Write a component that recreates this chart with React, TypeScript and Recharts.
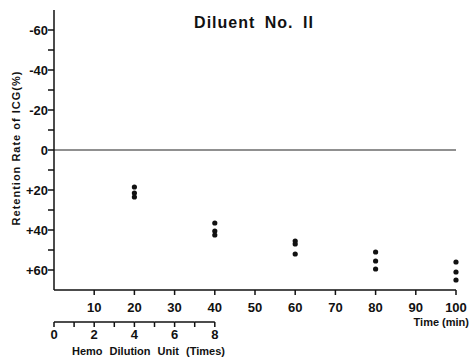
import {
    ScatterChart,
    Scatter,
    XAxis,
    YAxis,
    ReferenceLine,
} from "recharts";

// Sampling times (min) and the three measured retention rates at each time
const TIMES = [20, 40, 60, 80, 100];
const RUN_A = [18.5, 36.5, 45.5, 51, 56];
const RUN_B = [21.5, 40.5, 47, 55.5, 61];
const RUN_C = [23.5, 42.5, 52, 59.5, 65];

// Axis ticks
const TIME_LABELS = [10, 20, 30, 40, 50, 60, 70, 80, 90, 100];
const RATE_TICKS = [-60, -50, -40, -30, -20, -10, 0, 10, 20, 30, 40, 50, 60];
const HEMO_TICKS = [0, 1, 2, 3, 4, 5, 6, 7, 8];

const TIME_DOMAIN = [0, 100];
const RATE_DOMAIN = [-70, 70];
const MIN_PER_UNIT = 5; // one hemo dilution unit every 5 minutes

// the time axis carries both scales: minutes on top, dilution units underneath
const TIME_TICKS = Array.from(
    new Set([...HEMO_TICKS.map((h) => h * MIN_PER_UNIT), ...TIME_LABELS])
).sort((a, b) => a - b);

const points = TIMES.flatMap((t, i) => [
    { time: t, rate: RUN_A[i] },
    { time: t, rate: RUN_B[i] },
    { time: t, rate: RUN_C[i] },
]);

const INK = "#111";
const FONT = "'Liberation Sans', Arial, sans-serif";
const HEMO_GAP = 32; // distance from the time axis down to the hemo scale

const Dot = (props: any) => <circle cx={props.cx} cy={props.cy} r={2.6} fill={INK} />;

const tickText = {
    fill: INK,
    fontSize: 13,
    fontWeight: 700,
    fontFamily: FONT,
};

const TimeTick = (props: any) => {
    const { x, y, payload, width } = props;
    const v = payload.value;
    const hemo = v / MIN_PER_UNIT;
    const step = (width * MIN_PER_UNIT) / (TIME_DOMAIN[1] - TIME_DOMAIN[0]);
    const lastHemo = HEMO_TICKS[HEMO_TICKS.length - 1];
    const isHemo = HEMO_TICKS.includes(hemo);
    const hy = y + HEMO_GAP;
    return (
        <g>
            {TIME_LABELS.includes(v) && (
                <>
                    <line x1={x} x2={x} y1={y} y2={y + 5} stroke={INK} strokeWidth={1.5} />
                    <text x={x} y={y + 22} textAnchor="middle" {...tickText}>
                        {v}
                    </text>
                </>
            )}
            {isHemo && (
                <>
                    {hemo < lastHemo && Number.isFinite(step) && (
                        <line x1={x} x2={x + step} y1={hy} y2={hy} stroke={INK} strokeWidth={1.5} />
                    )}
                    <line x1={x} x2={x} y1={hy} y2={hy + 5} stroke={INK} strokeWidth={1.5} />
                    {hemo % 2 === 0 && (
                        <text x={x} y={hy + 17} textAnchor="middle" {...tickText}>
                            {hemo}
                        </text>
                    )}
                </>
            )}
        </g>
    );
};

const RateTick = (props: any) => {
    const { x, y, payload } = props;
    const v = payload.value;
    return (
        <g>
            <line x1={x} x2={x - 6} y1={y} y2={y} stroke={INK} strokeWidth={1.5} />
            {v % 20 === 0 && (
                <text x={x - 6} y={y} dy="0.36em" textAnchor="end" {...tickText}>
                    {v > 0 ? `+${v}` : String(v)}
                </text>
            )}
        </g>
    );
};

export default function App() {
    return (
        <div style={styles.page}>
            <ScatterChart
                width={471}
                height={358}
                margin={{ top: 10, right: 15, bottom: 36, left: 53 }}
                style={{ fontFamily: FONT }}
            >
                <XAxis
                    dataKey="time"
                    type="number"
                    domain={TIME_DOMAIN}
                    ticks={TIME_TICKS}
                    interval={0}
                    height={32}
                    tickLine={false}
                    tickSize={0}
                    tickMargin={0}
                    stroke={INK}
                    strokeWidth={1.5}
                    tick={<TimeTick />}
                />
                <YAxis
                    dataKey="rate"
                    type="number"
                    domain={RATE_DOMAIN}
                    ticks={RATE_TICKS}
                    reversed
                    width={1}
                    interval={0}
                    tickLine={false}
                    tickSize={0}
                    tickMargin={0}
                    stroke={INK}
                    strokeWidth={1.5}
                    tick={<RateTick />}
                />
                <ReferenceLine y={0} stroke="#222" strokeWidth={1.2} />
                <Scatter data={points} shape={<Dot />} isAnimationActive={false} />
            </ScatterChart>

            <svg width={471} height={358} style={styles.overlay}>
                <text
                    x={254}
                    y={28}
                    textAnchor="middle"
                    fontSize={16}
                    fontWeight={700}
                    letterSpacing={1}
                    wordSpacing={4}
                    fill={INK}
                >
                    Diluent No. II
                </text>
                <text
                    x={20}
                    y={148}
                    transform="rotate(-90 20 148)"
                    textAnchor="middle"
                    fontSize={11}
                    fontWeight={700}
                    letterSpacing={1}
                    fill={INK}
                >
                    Retention Rate of ICG(%)
                </text>
                <text x={469} y={326} textAnchor="end" fontSize={11} fontWeight={700} fill={INK}>
                    Time (min)
                </text>
                <text x={72} y={355} fontSize={11} fontWeight={700} wordSpacing={4} fill={INK}>
                    Hemo Dilution Unit  (Times)
                </text>
            </svg>
        </div>
    );
}

const styles: Record<string, React.CSSProperties> = {
    page: {
        position: "absolute",
        left: 0,
        top: 0,
        width: 471,
        height: 358,
        background: "#fff",
        fontFamily: FONT,
    },
    overlay: {
        position: "absolute",
        left: 0,
        top: 0,
        pointerEvents: "none",
        fontFamily: FONT,
    },
};
